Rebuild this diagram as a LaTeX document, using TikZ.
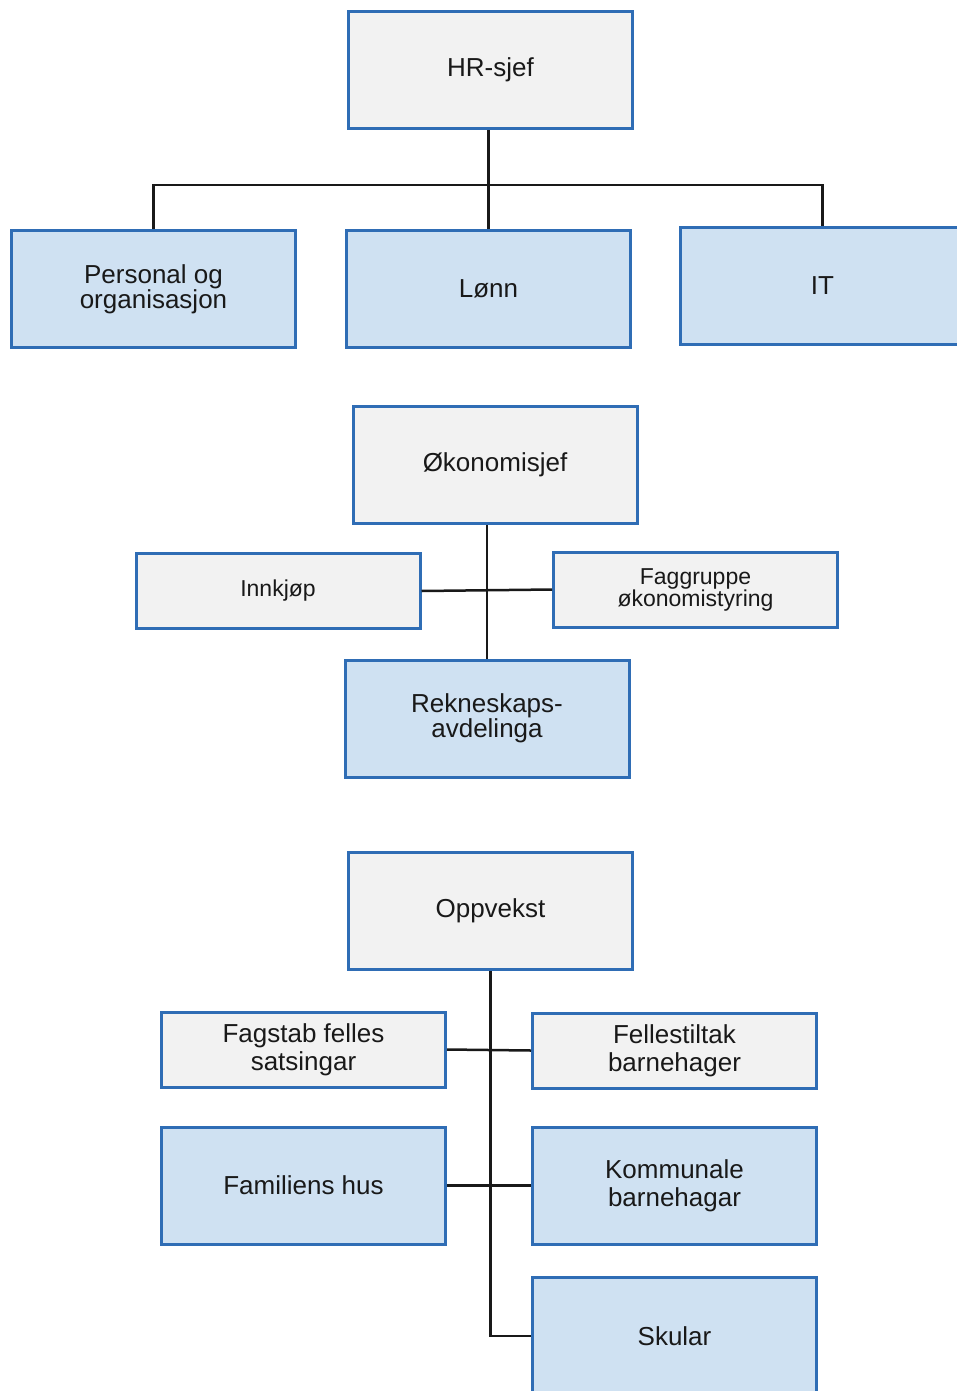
\documentclass[tikz,border=0pt]{standalone}
\usepackage{fontspec}
\setmainfont{Liberation Sans}
\usetikzlibrary{positioning}

\definecolor{boxgray}{HTML}{F2F2F2}
\definecolor{boxblue}{HTML}{CFE1F2}
\definecolor{boxline}{HTML}{2F6DB5}

\tikzset{
  unit/.style={draw=boxline, line width=3pt, minimum width=284pt, minimum height=117pt,
    align=center, inner sep=0pt, font=\fontsize{26}{25}\selectfont, text=black!90},
  staff/.style={unit, fill=boxgray},
  dept/.style={unit, fill=boxblue},
  small/.style={minimum height=75pt, font=\fontsize{23}{22}\selectfont},
  link/.style={line width=2.5pt, black!90}
}

\begin{document}
\begin{tikzpicture}[x=1pt, y={(0pt,-1pt)}]
                \useasboundingbox (0,0) rectangle (957,1391);
                % HR
                \node[staff] (hr) at (490.5, 70) {HR-sjef};
                \node[dept] (per) at (153.5, 289) {Personal og\\organisasjon};
                \node[dept] (lonn) at (488.5, 289) {Lønn};
                \node[dept] (it) at (822.5, 285.5) {IT};
                \coordinate (hrbus) at (488, 185);
                \draw[link] (lonn.north) -- (lonn.north |- hr.south);
                \draw[link] (per.north) |- (hrbus) -| (it.north);
                % okonomi
                \node[staff] (oko) at (495, 464.5) {Økonomisjef};
                \node[staff, small] (inn) at (278, 591) {Innkjøp};
                \node[staff, small] (fag) at (695.5, 589.5) {Faggruppe\\økonomistyring};
                \node[dept] (rek) at (487, 718.5) {Rekneskaps-\\avdelinga};
                \draw[link] (rek.north) -- (rek.north |- oko.south);
                \draw[link] (inn.east) -- (fag.west);
                % oppvekst
                \node[staff] (opp) at (490.5, 911) {Oppvekst};
                \node[staff, small, font=\fontsize{26}{28}\selectfont] (fst) at (303.5, 1049.5) {Fagstab felles\\satsingar};
                \node[staff, small, font=\fontsize{26}{28}\selectfont] (fel) at (674.5, 1050.5) {Fellestiltak\\barnehager};
                \node[dept] (fam) at (303.5, 1185.5) {Familiens hus};
                \node[dept, font=\fontsize{26}{28}\selectfont] (kom) at (674.5, 1185.5) {Kommunale\\barnehagar};
                \node[dept] (sku) at (674.5, 1336) {Skular};
                \draw[link] (opp.south) |- (sku.west);
                \draw[link] (fst.east) -- (fel.west);
                \draw[link] (fam.east) -- (kom.west);
\end{tikzpicture}
\end{document}
